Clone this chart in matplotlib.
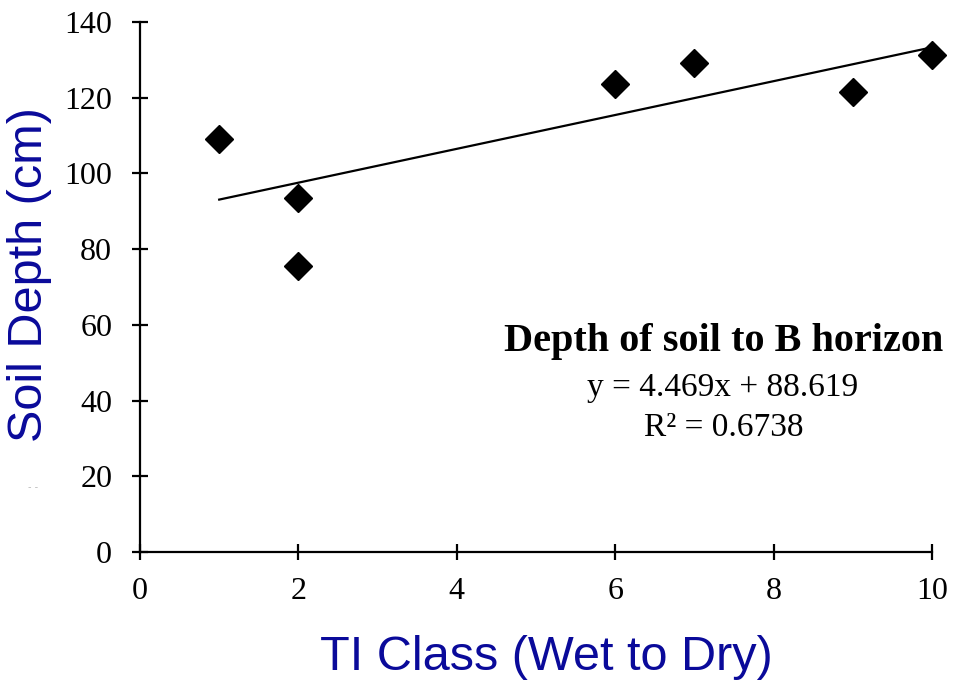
import matplotlib
matplotlib.use("Agg")
import matplotlib.pyplot as plt
import numpy as np

ti_class = [1, 2, 2, 6, 7, 9, 10]
soil_depth = [109, 93.5, 75.5, 123.5, 129.2, 121.6, 131.3]
slope = 4.469
intercept = 88.619
r2 = 0.6738
x_ticks = [0, 2, 4, 6, 8, 10]
y_ticks = [0, 20, 40, 60, 80, 100, 120, 140]

fig = plt.figure(figsize=(9.6, 6.81), dpi=100)
ax = fig.add_axes([140/960, 1-552/681, 792/960, 530/681])

ax.plot(ti_class, soil_depth, linestyle='none', marker='D', markersize=14,
        color='black', zorder=3, clip_on=False)
fx = np.array([min(ti_class), max(ti_class)])
ax.plot(fx, slope*fx + intercept, color='black', lw=1.6, zorder=2)

ax.set_xlim(0, 10)
ax.set_ylim(0, 140)
ax.set_xticks(x_ticks)
ax.set_yticks(y_ticks)
for s in ['top', 'right']:
    ax.spines[s].set_visible(False)
for s in ['left', 'bottom']:
    ax.spines[s].set_linewidth(1.6)
ax.tick_params(direction='inout', length=12, width=1.6, labelsize=23)
ax.tick_params(axis='y', pad=14)
ax.tick_params(axis='x', pad=12)
for lab in ax.get_xticklabels() + ax.get_yticklabels():
    lab.set_family('Liberation Serif')

fig.text(30/960, 1-275/681, 'Soil Depth (cm)', rotation=90, ha='center',
         va='center', fontsize=35, color='#0a0a9a', family='Liberation Sans')
fig.text(546/960, 1-657/681, 'TI Class (Wet to Dry)', ha='center',
         va='center', fontsize=35, color='#0a0a9a', family='Liberation Sans')

ax.text(724/960, 1-342/681, 'Depth of soil to B horizon', transform=fig.transFigure,
        ha='center', va='center', fontsize=29, fontweight='bold',
        family='Liberation Serif')
ax.text(723/960, 1-388/681, f'y = {slope}x + {intercept}', transform=fig.transFigure,
        ha='center', va='center', fontsize=24, family='Liberation Serif')
ax.text(724/960, 1-428/681, f'R² = {r2}', transform=fig.transFigure,
        ha='center', va='center', fontsize=24, family='Liberation Serif')

fig.text(33/960, 1-487/681, '- -', ha='center', va='center', fontsize=7,
         color='#bbbbbb')

fig.savefig('out.png', dpi=100)
